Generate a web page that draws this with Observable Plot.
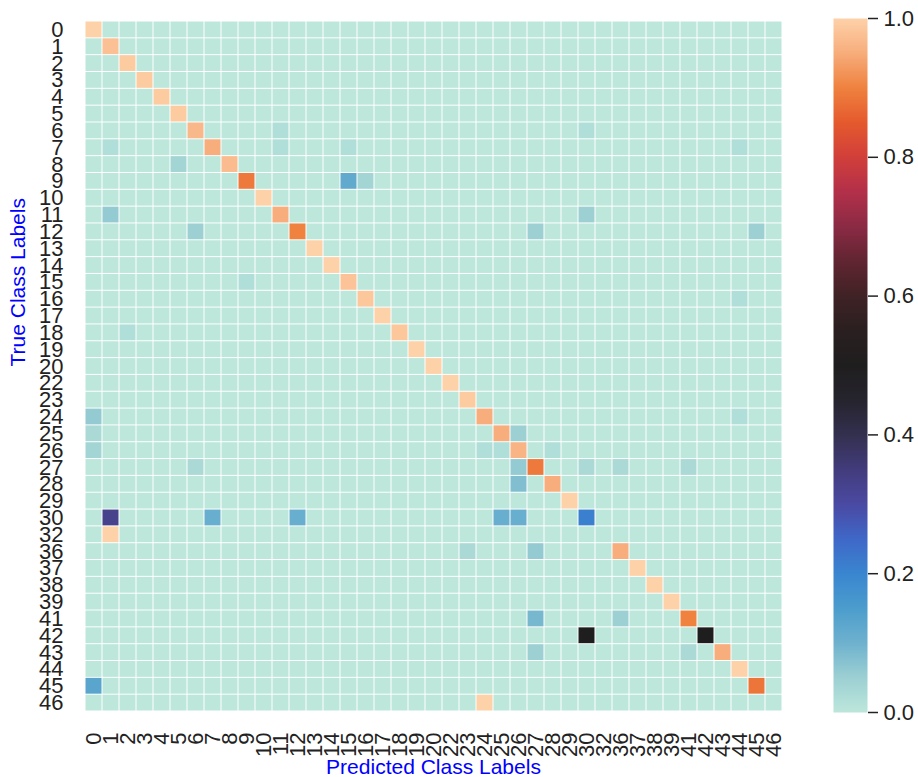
<!DOCTYPE html>
<html>
<head>
<meta charset="utf-8">
<script src="https://cdn.jsdelivr.net/npm/d3@7"></script>
<script src="https://cdn.jsdelivr.net/npm/@observablehq/plot@0.6"></script>
<style>
  html, body { margin: 0; padding: 0; background: #fff; overflow: hidden; }
  #wrap { display: flex; flex-direction: row; width: 918px; height: 777px; }
  svg { display: block; }
</style>
</head>
<body>
<div id="wrap"></div>
<script>
// Class labels (rows = true, columns = predicted)
const labels = ["0","1","2","3","4","5","6","7","8","9","10","11","12","13","14","15","16","17","18","19","20",
  "22","23","24","25","26","27","28","29","30","32","36","37","38","39","41","42","43","44","45","46"];

// Diagonal values (same order as labels)
const diagonal = [1.00,0.975,0.99,0.99,0.99,0.99,0.965,0.95,0.97,0.89,1.00,0.95,0.90,1.00,1.00,0.98,0.985,1.00,0.985,1.00,1.00,
  1.00,0.99,0.95,0.95,0.96,0.89,0.95,1.00,0.21,0.00,0.95,1.00,1.00,1.00,0.90,0.50,0.95,1.00,0.885,0.00];

// Off-diagonal entries: [true label, predicted label, value]
const offDiagonal = [
  ["6","11",0.02],["6","30",0.02],
  ["7","1",0.02],["7","11",0.02],["7","15",0.02],["7","44",0.02],
  ["8","5",0.04],
  ["9","15",0.12],["9","16",0.04],
  ["11","1",0.06],["11","30",0.05],
  ["12","6",0.05],["12","27",0.05],["12","45",0.05],
  ["15","9",0.02],
  ["16","44",0.02],
  ["18","2",0.02],
  ["24","0",0.06],["24","44",0.02],
  ["25","0",0.03],["25","26",0.05],
  ["26","0",0.04],["26","24",0.02],["26","25",0.02],["26","28",0.02],
  ["27","6",0.03],["27","26",0.06],["27","30",0.03],["27","36",0.03],["27","41",0.03],
  ["28","26",0.08],
  ["30","1",0.33],["30","7",0.11],["30","12",0.11],["30","25",0.11],["30","26",0.11],
  ["32","1",1.00],
  ["36","23",0.03],["36","27",0.06],
  ["41","27",0.09],["41","36",0.05],
  ["42","30",0.50],
  ["43","27",0.05],["43","41",0.03],
  ["45","0",0.13],
  ["46","24",1.00]
];

// Colorbar ticks
const colorbarTicks = [0, 0.2, 0.4, 0.6, 0.8, 1.0];

// "icefire"-like colour scheme stops (0 -> 1)
const icefire = ["#bde7db","#9dd0d3","#6fb2ce","#4c9dcd","#3a86d0","#3f68c8","#4a4aa3","#433c7c","#33304f","#26242e",
  "#1f1e1e","#2a1f20","#402225","#612532","#8b2a44","#b3304a","#d13f3a","#e55a2e","#ef823f","#f7ad7c","#fed2a9"];

const colorScale = { type: "linear", domain: [0, 1], interpolate: d3.piecewise(d3.interpolateRgb, icefire) };

// Build the full matrix table
const offMap = new Map(offDiagonal.map(([t, p, v]) => [t + "|" + p, v]));
const cells = [];
labels.forEach((t, i) => {
  labels.forEach((p, j) => {
    let v = i === j ? diagonal[i] : 0;
    const k = t + "|" + p;
    if (offMap.has(k)) v = offMap.get(k);
    cells.push({ true: t, pred: p, value: v });
  });
});

const FONT = "'Liberation Sans', Arial, Helvetica, sans-serif";

const main = Plot.plot({
  width: 800,
  height: 777,
  marginLeft: 79,
  marginRight: 13,
  marginTop: 21,
  marginBottom: 66,
  style: { background: "white", fontFamily: FONT, color: "#222" },
  x: { domain: labels, padding: 0, axis: null },
  y: { domain: labels, padding: 0, axis: null },
  color: colorScale,
  marks: [
    Plot.cell(cells, { x: "pred", y: "true", fill: "value", inset: 0.5 }),
    Plot.axisY({ tickSize: 0, tickPadding: 16, fontSize: 22, label: null }),
    Plot.axisX({ tickSize: 0, tickPadding: 21, tickRotate: -90, fontSize: 22, label: null }),
    Plot.text(["Predicted Class Labels"], { frameAnchor: "bottom", dy: 62, fontSize: 21, fill: "blue", fontFamily: FONT }),
    Plot.text(["True Class Labels"], { frameAnchor: "left", dx: -61, rotate: -90, fontSize: 21, fill: "blue", fontFamily: FONT })
  ]
});

const bar = Plot.plot({
  width: 118,
  height: 777,
  marginLeft: 33,
  marginRight: 51,
  marginTop: 18,
  marginBottom: 65,
  style: { background: "white", fontFamily: FONT, color: "#222" },
  x: { domain: [0, 1], axis: null },
  y: { domain: [0, 1], axis: null },
  color: colorScale,
  marks: [
    Plot.raster({ x1: 0, x2: 1, y1: 0, y2: 1, width: 4, height: 400, fill: (x, y) => y, imageRendering: "auto" }),
    Plot.axisY({ anchor: "right", ticks: colorbarTicks, tickFormat: d3.format(".1f"), tickSize: 10, tickPadding: 6, strokeWidth: 1.5, fontSize: 22, label: null })
  ]
});

const wrap = document.getElementById("wrap");
wrap.append(main, bar);
</script>
</body>
</html>
